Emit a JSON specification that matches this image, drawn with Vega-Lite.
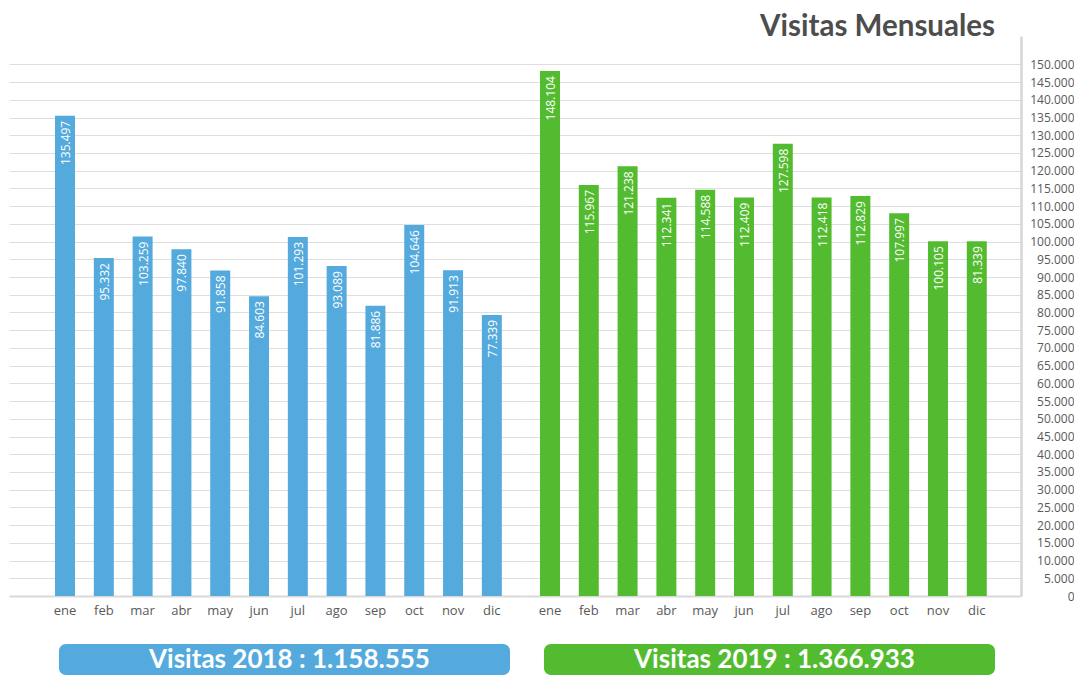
{
  "$schema": "https://vega.github.io/schema/vega-lite/v6.json",
  "padding": {"left": 9, "top": 11, "right": 0, "bottom": 0},
  "background": "white",
  "config": {
    "view": {"stroke": null},
    "font": "Open Sans"
  },
  "title": {
    "text": "Visitas Mensuales",
    "anchor": "end",
    "frame": "bounds",
    "font": "Lato",
    "fontWeight": "bold",
    "fontSize": 29.5,
    "color": "#4d4d4d",
    "dx": -79,
    "offset": -6
  },
  "data": {
    "values": [
      {"year": "2018", "month": "ene", "visits": 135497, "label": "135.497"},
      {"year": "2018", "month": "feb", "visits": 95332, "label": "95.332"},
      {"year": "2018", "month": "mar", "visits": 101400, "label": "103.259"},
      {"year": "2018", "month": "abr", "visits": 97840, "label": "97.840"},
      {"year": "2018", "month": "may", "visits": 91858, "label": "91.858"},
      {"year": "2018", "month": "jun", "visits": 84603, "label": "84.603"},
      {"year": "2018", "month": "jul", "visits": 101293, "label": "101.293"},
      {"year": "2018", "month": "ago", "visits": 93089, "label": "93.089"},
      {"year": "2018", "month": "sep", "visits": 81886, "label": "81.886"},
      {"year": "2018", "month": "oct", "visits": 104646, "label": "104.646"},
      {"year": "2018", "month": "nov", "visits": 91913, "label": "91.913"},
      {"year": "2018", "month": "dic", "visits": 79300, "label": "77.339"},
      {"year": "2019", "month": "ene", "visits": 148104, "label": "148.104"},
      {"year": "2019", "month": "feb", "visits": 115967, "label": "115.967"},
      {"year": "2019", "month": "mar", "visits": 121238, "label": "121.238"},
      {"year": "2019", "month": "abr", "visits": 112341, "label": "112.341"},
      {"year": "2019", "month": "may", "visits": 114588, "label": "114.588"},
      {"year": "2019", "month": "jun", "visits": 112409, "label": "112.409"},
      {"year": "2019", "month": "jul", "visits": 127598, "label": "127.598"},
      {"year": "2019", "month": "ago", "visits": 112418, "label": "112.418"},
      {"year": "2019", "month": "sep", "visits": 112829, "label": "112.829"},
      {"year": "2019", "month": "oct", "visits": 107997, "label": "107.997"},
      {"year": "2019", "month": "nov", "visits": 100105, "label": "100.105"},
      {"year": "2019", "month": "dic", "visits": 100105, "label": "81.339"}
    ]
  },
  "spacing": 27,
  "vconcat": [
    {
      "spacing": 0,
      "hconcat": [
        {
          "width": 512,
          "height": 560,
          "transform": [{"filter": "datum.year == '2018'"}],
          "encoding": {
            "x": {
              "field": "month", "type": "nominal",
              "sort": ["ene","feb","mar","abr","may","jun","jul","ago","sep","oct","nov","dic"],
              "scale": {"paddingInner": 0.485, "paddingOuter": 0.84, "align": 0.706},
              "axis": {"title": null, "ticks": false, "labelAngle": 0, "labelPadding": 8, "labelFontSize": 13, "labelColor": "#595959", "domainColor": "#d9d9d9", "domainWidth": 2}
            },
            "y": {
              "field": "visits", "type": "quantitative",
              "scale": {"domain": [0, 158000]},
              "axis": {"orient": "left", "title": null, "labels": false, "ticks": false, "domain": false, "grid": true, "gridColor": "#dedede", "gridWidth": 1.2,
                "values": [0,5000,10000,15000,20000,25000,30000,35000,40000,45000,50000,55000,60000,65000,70000,75000,80000,85000,90000,95000,100000,105000,110000,115000,120000,125000,130000,135000,140000,145000,150000]}
            }
          },
          "layer": [
            {"mark": {"type": "bar", "color": "#55aadd"}},
            {"mark": {"type": "text", "angle": 270, "align": "right", "baseline": "middle", "dx": -5, "dy": 1, "color": "white", "fontSize": 12, "font": "Open Sans"},
             "encoding": {"text": {"field": "label"}}}
          ]
        },
        {
          "width": 500,
          "height": 560,
          "transform": [{"filter": "datum.year == '2019'"}],
          "encoding": {
            "x": {
              "field": "month", "type": "nominal",
              "sort": ["ene","feb","mar","abr","may","jun","jul","ago","sep","oct","nov","dic"],
              "scale": {"paddingInner": 0.485, "paddingOuter": 0.686, "align": 0.357},
              "axis": {"title": null, "ticks": false, "labelAngle": 0, "labelPadding": 8, "labelFontSize": 13, "labelColor": "#595959", "domainColor": "#d9d9d9", "domainWidth": 2}
            },
            "y": {
              "field": "visits", "type": "quantitative",
              "scale": {"domain": [0, 158000]},
              "axis": {"orient": "right", "title": null, "ticks": false, "domain": true, "domainColor": "#d6d6d6", "domainWidth": 2.5,
                "labelAlign": "right", "labelPadding": 53, "labelFontSize": 12, "labelColor": "#595959",
                "labelExpr": "replace(format(datum.value, ','), ',', '.')",
                "grid": true, "gridColor": "#dedede", "gridWidth": 1.2,
                "values": [0,5000,10000,15000,20000,25000,30000,35000,40000,45000,50000,55000,60000,65000,70000,75000,80000,85000,90000,95000,100000,105000,110000,115000,120000,125000,130000,135000,140000,145000,150000]}
            }
          },
          "layer": [
            {"mark": {"type": "bar", "color": "#53bb2f"}},
            {"mark": {"type": "text", "angle": 270, "align": "right", "baseline": "middle", "dx": -5, "dy": 1, "color": "white", "fontSize": 12, "font": "Open Sans"},
             "encoding": {"text": {"field": "label"}}}
          ]
        }
      ]
    },
    {
      "width": 986,
      "height": 31,
      "data": {
        "values": [
          {"year": "2018", "text": "Visitas 2018 : 1.158.555"},
          {"year": "2019", "text": "Visitas 2019 : 1.366.933"}
        ]
      },
      "encoding": {
        "x": {"field": "year", "type": "nominal", "scale": {"paddingInner": 0.0701, "paddingOuter": 0.0515, "align": 1}, "axis": null}
      },
      "layer": [
        {"mark": {"type": "bar", "cornerRadius": 7},
         "encoding": {"color": {"field": "year", "type": "nominal", "scale": {"domain": ["2018", "2019"], "range": ["#55aadd", "#53bb2f"]}, "legend": null}}},
        {"mark": {"type": "text", "color": "white", "font": "Lato", "fontWeight": "bold", "fontSize": 26, "dx": 5},
         "encoding": {"text": {"field": "text"}}}
      ]
    }
  ]
}
